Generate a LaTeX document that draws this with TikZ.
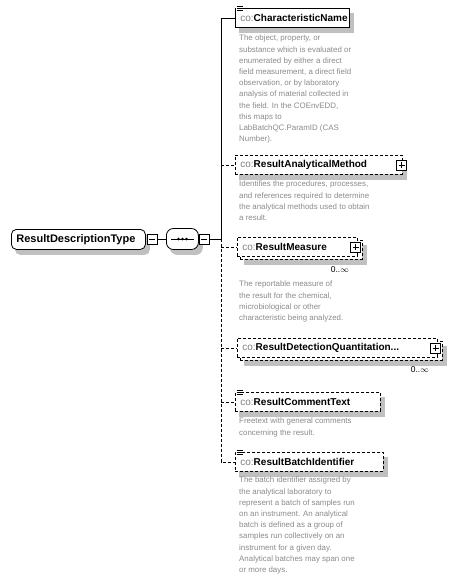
\documentclass[tikz,border=0pt]{standalone}
\usepackage{fontspec}
\setmainfont{Liberation Sans}
\usetikzlibrary{positioning,backgrounds}
\definecolor{clNote}{HTML}{8A8A8A}
\definecolor{clShadow}{HTML}{C0C0C0}
\definecolor{clPrefix}{HTML}{808080}
\newcommand{\coname}[1]{\textcolor{clPrefix}{co:}\textbf{#1}}
\tikzset{
  elem/.style={rectangle, draw, fill=white, line width=0.8pt, anchor=north west,
               minimum height=19pt, inner xsep=5pt, inner ysep=0pt, align=left,
               font=\fontsize{10}{12}\selectfont},
  optional/.style={dash pattern=on 3pt off 2pt},
  dropbox/.style={fill=clShadow},
  typebox/.style={elem, rounded corners=5pt, font=\fontsize{11}{12}\selectfont\bfseries},
  seqbox/.style={rectangle, rounded corners=7pt, draw, fill=white, line width=0.8pt,
                 minimum width=32pt, minimum height=21pt},
  note/.style={anchor=north west, inner sep=0pt, align=left, text=clNote,
               font=\fontsize{7.9}{11.2}\selectfont},
  card/.style={font=\fontsize{8.5}{9}\selectfont, inner sep=0pt},
  plusbox/.style={rectangle, draw, fill=white, line width=0.8pt, minimum size=10pt, inner sep=0pt,
                  path picture={
                    \draw ([yshift=-1.8pt]path picture bounding box.north) -- ([yshift=1.8pt]path picture bounding box.south);
                    \draw ([xshift=1.8pt]path picture bounding box.west) -- ([xshift=-1.8pt]path picture bounding box.east);}},
  minusbox/.style={rectangle, draw, fill=white, line width=0.8pt, minimum size=10pt, inner sep=0pt,
                   path picture={
                     \draw ([xshift=1.8pt]path picture bounding box.west) -- ([xshift=-1.8pt]path picture bounding box.east);}},
  link/.style={line width=0.8pt},
}
\newcommand{\docicon}[1]{%
  \fill[white] ([xshift=0.6pt, yshift=3pt]#1.north west) rectangle ++(7pt,-7pt);
  \foreach \k in {0,2,4}
    \draw[line width=0.7pt] ([xshift=1.5pt, yshift=2pt-\k pt]#1.north west) -- ++(6pt,0);}

\begin{document}
\begin{tikzpicture}[x=1pt, y=-1pt]
  \useasboundingbox (0,0) rectangle (454,582);
  % type and sequence
  \node[typebox, text width=124pt, minimum height=20pt] (rdt) at (11,229) {ResultDescriptionType};
  \node[minusbox] (rdtMinus) at (152,239) {};
  \node[seqbox, anchor=west] (seq) at (166,239) {};
  \draw[link] ([xshift=5pt]seq.west) -- ([xshift=-5pt]seq.east);
  \foreach \d in {-4,0,4} \fill ([xshift=\d pt]seq.center) circle (1.4pt);
  \node[minusbox] (seqMinus) at (204,239) {};
  \draw[link] (rdtMinus) -- (seq);
  \coordinate (spine) at (221,239);
  \draw[link] (seqMinus) -- (spine);

  % child elements
  \node[elem, text width=104pt] (charName) at (235,8) {\coname{CharacteristicName}};
  \docicon{charName}
  \node[note] (charNote) at (239,35) {The object, property, or\\substance which is evaluated or\\enumerated by either a direct\\field measurement, a direct field\\observation, or by laboratory\\analysis of material collected in\\the field. In the COEnvEDD,\\this maps to\\LabBatchQC.ParamID (CAS\\Number).};

  \node[elem, optional, text width=157pt] (method) at (235,155) {\coname{ResultAnalyticalMethod}};
  \node[plusbox] (methodPlus) at ([xshift=-1pt]method.east) {};
  \node[note] (methodNote) at (239,181) {Identifies the procedures, processes,\\and references required to determine\\the analytical methods used to obtain\\a result.};

  \node[elem, optional, minimum width=122pt, minimum height=19pt] (measureBack) at (240,240) {};
  \node[elem, optional, text width=110pt] (measure) at (237,237) {\coname{ResultMeasure}};
  \node[plusbox] (measurePlus) at ([xshift=-2pt]measure.east) {};
  \node[card, anchor=north east] (measureCard) at (349,266) {0..$\infty$};
  \node[note] (measureNote) at (239,281) {The reportable measure of\\the result for the chemical,\\microbiological or other\\characteristic being analyzed.};

  \node[elem, optional, minimum width=202pt, minimum height=19pt] (detectBack) at (240,341) {};
  \node[elem, optional, text width=190pt] (detect) at (237,338) {\coname{ResultDetectionQuantitation...}};
  \node[plusbox] (detectPlus) at ([xshift=-2pt]detect.east) {};
  \node[card, anchor=north east] (detectCard) at (429,366) {0..$\infty$};

  \node[elem, optional, text width=135pt] (comment) at (235,392) {\coname{ResultCommentText}};
  \docicon{comment}
  \node[note] (commentNote) at (239,418) {Freetext with general comments\\concerning the result.};

  \node[elem, optional, text width=138pt] (batch) at (235,452) {\coname{ResultBatchIdentifier}};
  \docicon{batch}
  \node[note] (batchNote) at (239,477) {The batch identifier assigned by\\the analytical laboratory to\\represent a batch of samples run\\on an instrument. An analytical\\batch is defined as a group of\\samples run collectively on an\\instrument for a given day.\\Analytical batches may span one\\or more days.};

  % connectors
  \draw[link] (spine) |- (charName.west);
  \draw[link, optional] (spine |- method.west) -- (method.west);
  \draw[link, optional] (spine) |- (batch.west);
  \draw[link, optional] (spine |- measure.west) -- (measure.west);
  \draw[link, optional] (spine |- detect.west) -- (detect.west);
  \draw[link, optional] (spine |- comment.west) -- (comment.west);

  % shadows
  \begin{scope}[on background layer]
    \foreach \n in {charName,method,measureBack,detectBack,comment,batch}
      \fill[dropbox] ([xshift=4pt, yshift=-5pt]\n.north west) rectangle ([xshift=4pt, yshift=-5pt]\n.south east);
    \fill[dropbox, rounded corners=5pt] ([xshift=4pt, yshift=-5pt]rdt.north west) rectangle ([xshift=4pt, yshift=-5pt]rdt.south east);
    \fill[dropbox, rounded corners=7pt] ([xshift=4pt, yshift=-5pt]seq.north west) rectangle ([xshift=4pt, yshift=-5pt]seq.south east);
  \end{scope}
\end{tikzpicture}
\end{document}
